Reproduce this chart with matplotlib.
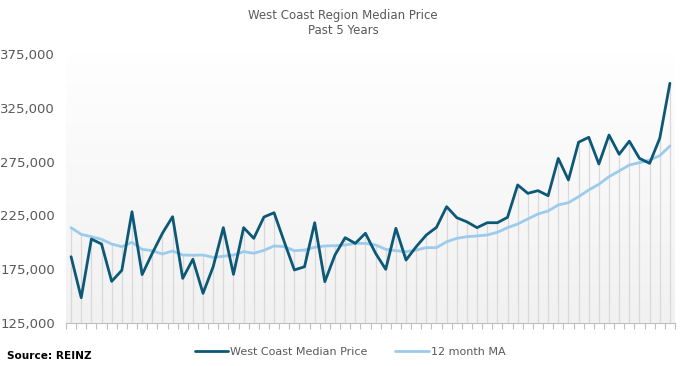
import numpy as np
import matplotlib
matplotlib.use("Agg")
import matplotlib.pyplot as plt
from matplotlib.colors import LinearSegmentedColormap

median_price = [186.6, 148.5, 203.0, 198.4, 163.7, 174.0, 228.4, 170.0, 189.8, 208.4,
                223.8, 166.5, 184.2, 152.6, 177.3, 213.6, 170.2, 213.6, 203.7, 223.5,
                227.5, 200.5, 174.3, 177.3, 218.2, 163.4, 188.2, 204.3, 199.0, 208.4,
                189.8, 174.9, 213.0, 183.5, 195.9, 206.8, 213.9, 233.1, 222.9, 219.0,
                213.6, 218.2, 218.2, 223.2, 253.3, 245.5, 248.0, 243.3, 278.0, 257.9,
                293.0, 297.6, 272.8, 299.7, 281.8, 294.0, 278.0, 273.4, 296.7, 347.8]
ma_12 = [213.6, 207.4, 205.2, 202.8, 198.4, 195.9, 200.0, 193.5, 192.2, 189.1,
         191.9, 188.2, 188.0, 188.2, 186.0, 187.0, 188.2, 191.3, 189.8, 192.5,
         196.6, 196.0, 192.2, 192.8, 195.4, 196.6, 196.8, 197.5, 199.0, 199.0,
         197.5, 193.5, 192.2, 191.3, 192.8, 195.0, 195.0, 200.5, 203.7, 205.2,
         205.9, 206.8, 209.3, 213.6, 217.0, 221.7, 226.3, 229.1, 234.7, 236.8,
         242.4, 248.6, 253.9, 261.0, 266.3, 271.8, 274.0, 276.5, 280.5, 289.5]
median_price = [v * 1000 for v in median_price]
ma_12 = [v * 1000 for v in ma_12]
y_ticks = [125000, 175000, 225000, 275000, 325000, 375000]
series_names = ["West Coast Median Price", "12 month MA"]

DARK = "#0c5877"
LIGHT = "#9ccbec"
GREY = "#595959"

fig = plt.figure(figsize=(6.83, 3.66), dpi=100)
W, H = 683, 366
left, right, top, bottom = 66, 675, 54, 323
ax = fig.add_axes([left / W, 1 - bottom / H, (right - left) / W, (bottom - top) / H])

x = np.arange(len(median_price))
ymin, ymax = 125000, 375000

# gradient background
grad = np.linspace(0, 1, 256).reshape(-1, 1)
cmap = LinearSegmentedColormap.from_list("bg", ["#f1f1f1", "#ffffff"])
ax.imshow(grad, extent=[-0.5, len(x) - 0.5, ymin, ymax + 10000], origin="lower",
          aspect="auto", cmap=cmap, zorder=0)
ax.set_xlim(-0.5, len(x) - 0.5)
ax.set_ylim(ymin, ymax)

# drop lines
tops = np.maximum(median_price, ma_12)
ax.vlines(x, ymin, tops, color="#d9d9d9", lw=0.9, zorder=1)

ax.plot(x, ma_12, color=LIGHT, lw=2.0, zorder=2, solid_capstyle="round", label=series_names[1])
ax.plot(x, median_price, color=DARK, lw=2.0, zorder=3, solid_capstyle="round", label=series_names[0])

ax.set_yticks(y_ticks)
ax.set_yticklabels([f"{v:,}" for v in y_ticks], color=GREY, fontsize=9.5)
ax.tick_params(axis="y", length=0, pad=8)
ax.set_xticks(np.arange(-0.5, len(x), 1.0))
ax.set_xticklabels([])
ax.tick_params(axis="x", length=4, color="#bfbfbf", width=0.8)
for s in ["top", "right", "left"]:
    ax.spines[s].set_visible(False)
ax.spines["bottom"].set_color("#bfbfbf")
ax.spines["bottom"].set_linewidth(0.8)

fig.text(343 / W, 1 - 16 / H, "West Coast Region Median Price", ha="center", va="center",
         fontsize=8.5, color=GREY)
fig.text(343 / W, 1 - 30 / H, "Past 5 Years", ha="center", va="center",
         fontsize=8.5, color=GREY)

fig.text(7 / W, 1 - 356 / H, "Source: REINZ", ha="left", va="center",
         fontsize=7.6, fontweight="bold", color="black")

# legend
h, l = ax.get_legend_handles_labels()
leg = fig.legend(h[::-1], l[::-1], loc="center", bbox_to_anchor=(350 / W, 1 - 352 / H),
                 ncol=2, frameon=False, fontsize=8, handlelength=3.0, handletextpad=0.2,
                 columnspacing=2.5, labelcolor=GREY, borderpad=0, borderaxespad=0)

fig.savefig("out.png", dpi=100)
